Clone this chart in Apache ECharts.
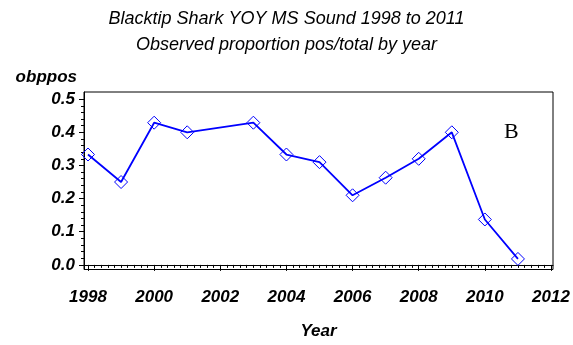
<!DOCTYPE html>
<html>
<head>
<meta charset="utf-8">
<script src="https://cdn.jsdelivr.net/npm/echarts@6/dist/echarts.min.js"></script>
<style>
  html, body { margin: 0; padding: 0; background: #fff; }
  #chart { width: 573px; height: 345px; }
</style>
</head>
<body>
<div id="chart"></div>
<script>
// Observed proportion of positive sets (pos/total) per survey year
const years  = [1998, 1999, 2000, 2001, 2003, 2004, 2005, 2006, 2007, 2008, 2009, 2010, 2011];
const obppos = [0.333, 0.25, 0.429, 0.40, 0.429, 0.333, 0.31, 0.21, 0.263, 0.32, 0.40, 0.137, 0.018];

// Tick labels
const yearTicks = [1998, 2000, 2002, 2004, 2006, 2008, 2010, 2012];
const propTicks = [0.0, 0.1, 0.2, 0.3, 0.4, 0.5];

// Minor tick positions: every 0.2 year and every 0.02 of proportion
const yearMinor = [];
for (let i = 0; i <= 70; i++) {
  const v = +(1998 + i * 0.2).toFixed(1);
  if (i % 10 !== 0) yearMinor.push(v);
}
const propMinor = [];
for (let i = 0; i <= 25; i++) {
  const v = +(i * 0.02).toFixed(2);
  if (i % 5 !== 0) propMinor.push(v);
}

const FONT = '"Liberation Sans", Arial, sans-serif';
const X_MIN = 1997.879, X_MAX = 2012.06;
const Y_MIN = -0.0139, Y_MAX = 0.5216;

const labelStyle = {
  fontFamily: FONT, fontSize: 17, fontStyle: 'italic', fontWeight: 'bold', color: '#000'
};

const chart = echarts.init(document.getElementById('chart'), null, { renderer: 'canvas' });

chart.setOption({
  animation: false,
  backgroundColor: '#fff',
  title: {
    text: 'Blacktip Shark YOY MS Sound 1998 to 2011\nObserved proportion pos/total by year',
    left: 'center',
    top: 1,
    textStyle: {
      fontFamily: FONT, fontSize: 18, fontStyle: 'italic', fontWeight: 'normal',
      color: '#000', lineHeight: 26, align: 'center'
    }
  },
  grid: {
    left: 84, right: 20, top: 92, bottom: 72,
    show: true, borderColor: '#000', borderWidth: 1, backgroundColor: 'transparent'
  },
  xAxis: [
    {
      type: 'value', min: X_MIN, max: X_MAX, position: 'bottom',
      name: 'Year', nameLocation: 'middle', nameGap: 62,
      nameTextStyle: Object.assign({}, labelStyle, { verticalAlign: 'middle' }),
      axisLine: { show: true, lineStyle: { color: '#000', width: 1 } },
      axisTick: { show: true, length: 6, inside: false, customValues: yearTicks, lineStyle: { color: '#000' } },
      axisLabel: Object.assign({}, labelStyle, { customValues: yearTicks, margin: 19, formatter: v => String(Math.round(v)) }),
      splitLine: { show: false }
    },
    {
      type: 'value', min: X_MIN, max: X_MAX, position: 'bottom',
      axisLine: { show: false },
      axisTick: { show: true, length: 3, customValues: yearMinor, lineStyle: { color: '#000' } },
      axisLabel: { show: false },
      splitLine: { show: false }
    }
  ],
  yAxis: [
    {
      type: 'value', min: Y_MIN, max: Y_MAX, position: 'left',
      name: 'obppos', nameLocation: 'end', nameGap: 15,
      nameTextStyle: Object.assign({}, labelStyle, { align: 'right', verticalAlign: 'middle', padding: [0, 7, 0, 0] }),
      axisLine: { show: true, lineStyle: { color: '#000', width: 1 } },
      axisTick: { show: true, length: 5, customValues: propTicks, lineStyle: { color: '#000' } },
      axisLabel: Object.assign({}, labelStyle, { customValues: propTicks, margin: 9, formatter: v => v.toFixed(1) }),
      splitLine: { show: false }
    },
    {
      type: 'value', min: Y_MIN, max: Y_MAX, position: 'left',
      axisLine: { show: false },
      axisTick: { show: true, length: 3, customValues: propMinor, lineStyle: { color: '#000' } },
      axisLabel: { show: false },
      splitLine: { show: false }
    }
  ],
  graphic: [
    {
      type: 'text', left: 504, top: 121,
      style: { text: 'B', font: '22px "Liberation Serif", "Times New Roman", serif', fill: '#000' }
    }
  ],
  series: [
    {
      type: 'line',
      xAxisIndex: 0, yAxisIndex: 0,
      data: years.map((y, i) => [y, obppos[i]]),
      symbol: 'diamond',
      symbolSize: 13,
      showAllSymbol: true,
      lineStyle: { color: '#0000ff', width: 1.8 },
      itemStyle: { color: 'rgba(0,0,0,0)', borderColor: '#0000ff', borderWidth: 1 },
      emphasis: { disabled: true }
    }
  ]
});
</script>
</body>
</html>
